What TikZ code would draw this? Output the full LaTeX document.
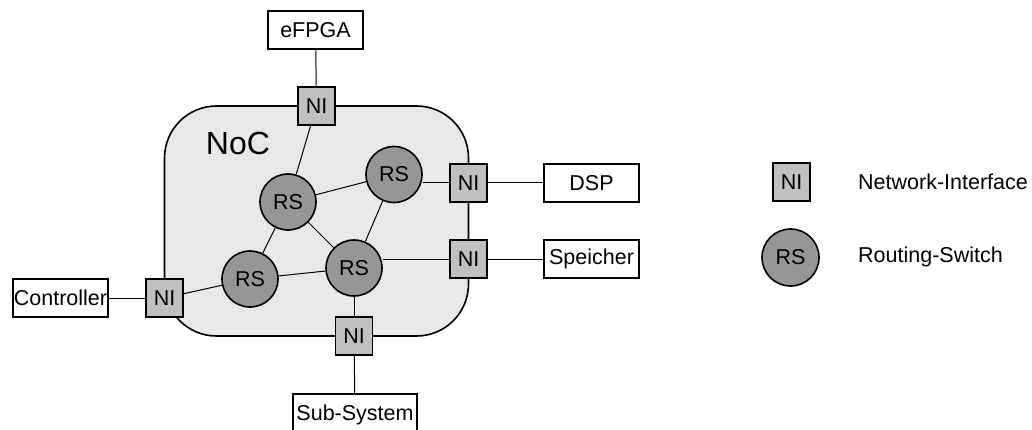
\documentclass[tikz,border=0pt]{standalone}
\usepackage{fontspec}
\setmainfont{Liberation Sans}
\begin{document}
\begin{tikzpicture}[x=1pt,y=-1pt,
  lbl/.style={font=\fontsize{21.5}{25}\selectfont, inner sep=0pt},
  ni/.style={lbl, draw=black, line width=1.6pt, fill=niGray, minimum width=37pt, minimum height=38pt},
  rs/.style={lbl, circle, draw=black, line width=1.6pt, fill=rsGray, minimum size=56pt},
  unit/.style={lbl, draw=black, line width=1.6pt, fill=white, minimum width=95pt, minimum height=38pt},
  link/.style={line width=1pt, draw=black}]
\definecolor{niGray}{HTML}{C0C0C0}
\definecolor{rsGray}{HTML}{969696}
\definecolor{nocGray}{HTML}{E8E8E8}
\useasboundingbox (0,0) rectangle (1032,430);

% network-on-chip area
\draw[line width=1.6pt, fill=nocGray, rounded corners=52pt] (164.5,106) rectangle (468.5,336);
\node[lbl, font=\fontsize{32}{35}\selectfont] (noc) at (238,143) {NoC};

% attached units
\node[unit] (fpga) at (315.5,30) {eFPGA};
\node[unit] (dsp) at (591.5,183) {DSP};
\node[unit] (mem) at (591.5,259) {Speicher};
\node[unit] (ctrl) at (60.5,298) {Controller};
\node[unit, minimum width=124pt, minimum height=42pt, anchor=north] (sub) at (355,393) {\raisebox{-2pt}{Sub-System}};

% routing switches
\node[rs] (rs1) at (288,202) {RS};
\node[rs] (rs2) at (394,174.5) {RS};
\node[rs] (rs3) at (250,279) {RS};
\node[rs] (rs4) at (354,268) {RS};

% network interfaces
\node[ni] (niT) at (316.5,106) {NI};
\node[ni] (niR1) at (468.5,183) {NI};
\node[ni] (niR2) at (468.5,259) {NI};
\node[ni] (niL) at (164.5,298) {NI};
\node[ni] (niB) at (354,336) {NI};

% connections
\draw[link] (fpga) -- (niT);
\draw[link] (niT) -- (rs1);
\draw[link] (rs1) -- (rs2);
\draw[link] (rs1) -- (rs4);
\draw[link] (rs1) -- (rs3);
\draw[link] (rs2) -- (rs4);
\draw[link] (rs3) -- (rs4);
\draw[link] (niR1.west) -- (niR1.west -| rs2.east);
\draw[link] (niR2.west) -- (niR2.west -| rs4.east);
\draw[link] (rs3) -- (niL);
\draw[link] (rs4) -- (niB);
\draw[link] (niR1) -- (dsp);
\draw[link] (niR2) -- (mem);
\draw[link] (niL) -- (ctrl);
\draw[link] (niB) -- (sub);

% legend
\node[ni] (legNI) at (791.5,182) {NI};
\node[rs, minimum size=57pt] (legRS) at (790.5,257.5) {RS};
\node[lbl, anchor=west] (legNItxt) at (858,182) {Network-Interface};
\node[lbl, anchor=west] (legRStxt) at (858,257) {Routing-Switch};
\end{tikzpicture}
\end{document}
